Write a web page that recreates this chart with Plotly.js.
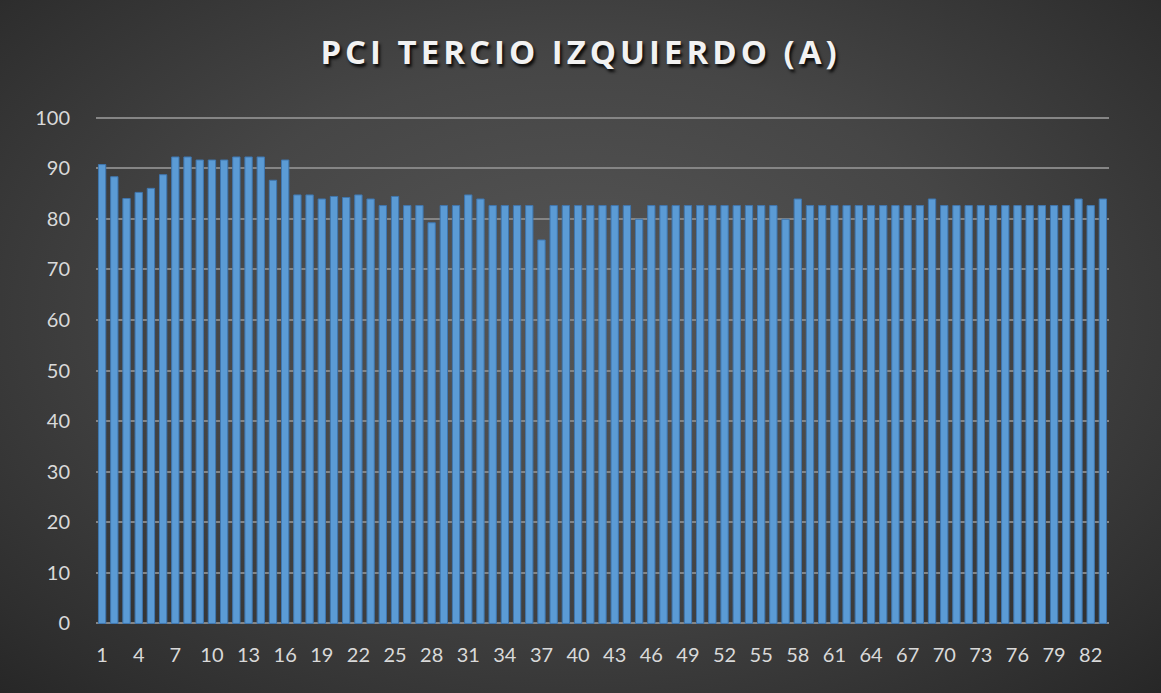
<!DOCTYPE html>
<html>
<head>
<meta charset="utf-8">
<script src="https://cdn.plot.ly/plotly-3.0.1.min.js"></script>
<style>
html,body{margin:0;padding:0;width:1161px;height:693px;overflow:hidden;}
#wrap{width:1161px;height:693px;background:radial-gradient(ellipse 75% 80% at 50% 45%, #565656 0%, #464646 45%, #2e2e2e 85%, #242424 100%);}
#chart{width:1161px;height:693px;}
.gtitle{letter-spacing:4px;}
</style>
</head>
<body>
<div id="wrap"><div id="chart"></div></div>
<script>
const chartTitle = "PCI TERCIO IZQUIERDO (A)";
const sections = Array.from({length: 83}, (_, i) => i + 1);
const pciValues = [
  90.7, 88.3, 84.0, 85.2, 86.0, 88.7, 92.2, 92.2, 91.6, 91.6,
  91.6, 92.2, 92.2, 92.2, 87.6, 91.6, 84.7, 84.7, 83.9, 84.4,
  84.2, 84.7, 83.9, 82.6, 84.4, 82.6, 82.6, 79.2, 82.6, 82.6,
  84.7, 83.9, 82.6, 82.6, 82.6, 82.6, 75.8, 82.6, 82.6, 82.6,
  82.6, 82.6, 82.6, 82.6, 79.9, 82.6, 82.6, 82.6, 82.6, 82.6,
  82.6, 82.6, 82.6, 82.6, 82.6, 82.6, 79.9, 83.9, 82.6, 82.6,
  82.6, 82.6, 82.6, 82.6, 82.6, 82.6, 82.6, 82.6, 83.9, 82.6,
  82.6, 82.6, 82.6, 82.6, 82.6, 82.6, 82.6, 82.6, 82.6, 82.6,
  83.9, 82.6, 83.9
];
const xTickVals = sections.filter(v => (v - 1) % 3 === 0);
const yTickVals = [0,10,20,30,40,50,60,70,80,90,100];

const trace = {
  type: 'bar',
  x: sections,
  y: pciValues,
  width: 0.6,
  marker: {color: '#5B9BD5', line: {color: '#3F76AE', width: 1}},
  hoverinfo: 'x+y'
};

const layout = {
  width: 1161, height: 693,
  paper_bgcolor: 'rgba(0,0,0,0)',
  plot_bgcolor: 'rgba(0,0,0,0)',
  margin: {l: 96, r: 52, t: 116, b: 68},
  title: {
    text: '<b>' + chartTitle + '</b>',
    x: 0.5, xanchor: 'center',
    y: 0.924, yanchor: 'middle',
    font: {family: 'Open Sans, sans-serif', size: 33, color: '#F2F2F2', shadow: '2px 3px 3px rgba(0,0,0,0.85)'}
  },
  showlegend: false,
  xaxis: {
    range: [0.5, 83.5],
    tickmode: 'array', tickvals: xTickVals, ticktext: xTickVals.map(String),
    showgrid: false, zeroline: false,
    showline: false, ticks: '',
    tickfont: {family: 'Lato, sans-serif', size: 20, color: '#D9D9D9'},
    ticklabelstandoff: 16
  },
  yaxis: {
    range: [-0.3, 100.3],
    tickmode: 'array', tickvals: yTickVals,
    showgrid: true, gridcolor: '#858585', gridwidth: 2,
    zeroline: false, showline: false, ticks: '',
    tickfont: {family: 'Lato, sans-serif', size: 20, color: '#D9D9D9'},
    ticklabelstandoff: 25
  }
};

Plotly.newPlot('chart', [trace], layout, {displayModeBar: false, staticPlot: true});
</script>
</body>
</html>
